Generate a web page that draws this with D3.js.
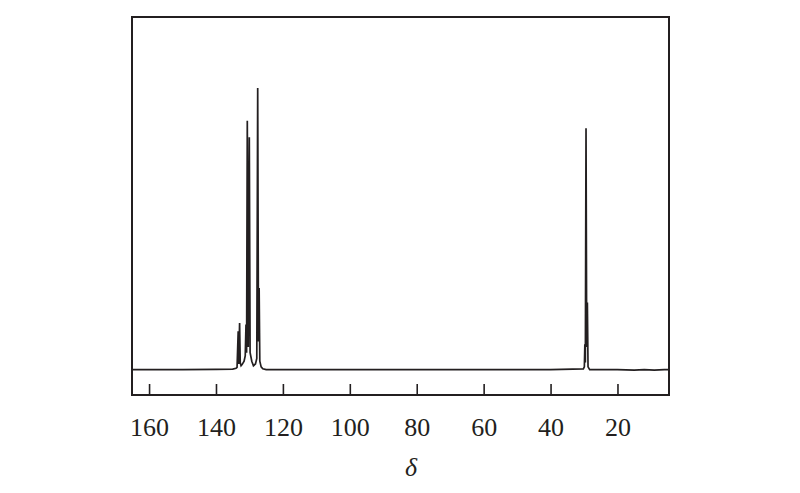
<!DOCTYPE html>
<html>
<head>
<meta charset="utf-8">
<script src="https://cdn.jsdelivr.net/npm/d3@7"></script>
<style>
  html, body { margin: 0; padding: 0; background: #fff; }
  svg { display: block; }
</style>
</head>
<body>
<svg id="chart" width="800" height="493"></svg>
<script>
// Chemical shift (ppm) of each spectrum point (high to low)
const shift = [
  165.0, 150.0, 140.0, 135.0, 134.0, 133.7,
  133.36, 133.2, 132.94, 132.75, 132.5, 132.2, 131.6, 131.25,
  131.03, 130.85, 130.64, 130.35, 130.04, 129.8, 129.3, 128.8,
  128.2, 127.8, 127.53, 127.3, 127.1, 126.9, 126.5, 126.0, 125.0,
  80.0, 40.0, 30.2, 29.9, 29.75, 29.6, 29.4, 29.2, 29.0, 28.8, 28.3,
  20.0, 15.0, 12.0, 9.0, 6.0, 4.6
];
// Relative intensity of each spectrum point (tallest peak = 100)
const intensity = [
  0, 0, 0.1, 0.2, 0.5, 0.8,
  13.6, 2.0, 16.6, 2.5, 1.4, 1.8, 3.0, 5.0,
  16.0, 6.0, 88.4, 8.0, 82.5, 6.0, 3.0, 1.4,
  2.0, 4.0, 100, 10.0, 29.0, 3.0, 1.0, 0.3, 0,
  0, 0, 0.3, 1.0, 9.0, 2.5, 85.7, 8.0, 23.8, 1.0, 0,
  0, -0.2, 0, -0.2, 0, 0
];
// Axis tick values and labels
const tickValues = [160, 140, 120, 100, 80, 60, 40, 20];
const xDomain = [165.1, 4.6];
const yDomain = [-9, 125.2];
const xLabel = "δ";

const points = shift.map((s, i) => ({ s, v: intensity[i] }));

const svg = d3.select("#chart");
const margin = { left: 132, right: 131, top: 17, bottom: 98 };
const W = 800, H = 493;
const x = d3.scaleLinear().domain(xDomain).range([margin.left, W - margin.right]);
const y = d3.scaleLinear().domain(yDomain).range([H - margin.bottom, margin.top]);

const ink = "#231f20";

// spectrum line
svg.append("path")
  .datum(points)
  .attr("fill", "none")
  .attr("stroke", ink)
  .attr("stroke-width", 1.7)
  .attr("stroke-linejoin", "miter")
  .attr("d", d3.line().x(d => x(d.s)).y(d => y(d.v)));

// bottom axis with inward ticks
const axis = d3.axisBottom(x)
  .tickValues(tickValues)
  .tickSize(-11)
  .tickPadding(23)
  .tickFormat(d3.format("d"));
const gx = svg.append("g")
  .attr("transform", `translate(0,${H - margin.bottom})`)
  .call(axis);
gx.select(".domain").remove();
gx.selectAll(".tick line").attr("stroke", ink).attr("stroke-width", 1.6);
gx.selectAll(".tick text")
  .attr("fill", ink)
  .attr("font-family", "'Liberation Serif', 'Times New Roman', serif")
  .attr("font-size", 26);

// frame
svg.append("rect")
  .attr("x", margin.left)
  .attr("y", margin.top)
  .attr("width", W - margin.left - margin.right)
  .attr("height", H - margin.top - margin.bottom)
  .attr("fill", "none")
  .attr("stroke", ink)
  .attr("stroke-width", 2);

// x axis title
svg.append("text")
  .attr("x", 411)
  .attr("y", 476)
  .attr("text-anchor", "middle")
  .attr("fill", ink)
  .attr("font-family", "'Liberation Serif', 'Times New Roman', serif")
  .attr("font-style", "italic")
  .attr("font-size", 26)
  .text(xLabel);
</script>
</body>
</html>
